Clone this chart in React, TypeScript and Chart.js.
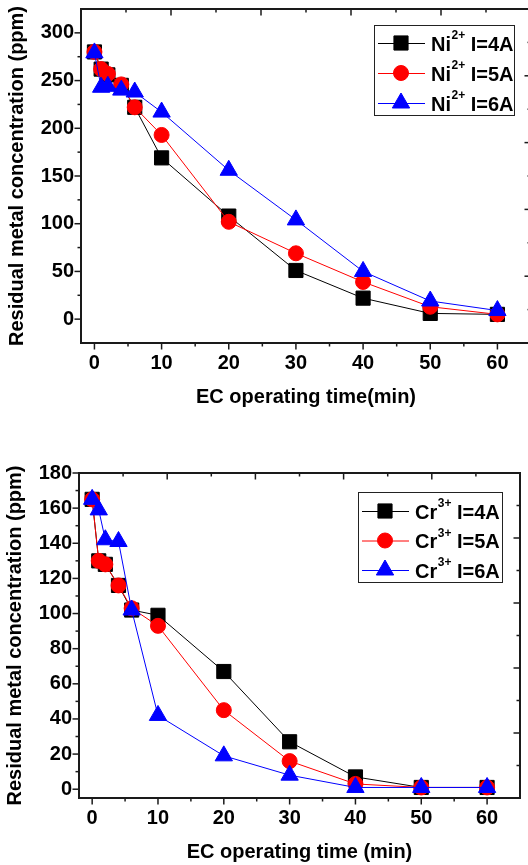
import React, { useEffect, useRef } from "react";
import { Chart, registerables } from "chart.js";

Chart.register(...registerables);

// ---------- data ----------
const niTime = [0, 1, 2, 4, 6, 10, 20, 30, 40, 50, 60];
const ni4A = [280, 262, 256, 245, 222, 169, 108, 51, 22, 6, 5];
const ni5A = [280, 262, 257, 246, 222, 193, 102, 69, 39, 13, 5];
const ni6A = [279, 243, 244, 240, 238, 217, 156, 104, 50, 19, 9];

const crTime = [0, 1, 2, 4, 6, 10, 20, 30, 40, 50, 60];
const cr4A = [165, 130, 128, 116, 102, 99, 67, 27, 7, 1, 1];
const cr5A = [165, 130, 128, 116, 103, 93, 45, 16, 3, 1, 1];
const cr6A = [165, 159, 142, 141, 102, 42, 19, 8, 1, 1, 1];

const xMajorTicks = [0, 10, 20, 30, 40, 50, 60];
const xMinorTicks = [5, 15, 25, 35, 45, 55];
const niYMajorTicks = [0, 50, 100, 150, 200, 250, 300];
const niYMinorTicks = [25, 75, 125, 175, 225, 275];
const crYMajorTicks = [0, 20, 40, 60, 80, 100, 120, 140, 160, 180];
const crYMinorTicks = [10, 30, 50, 70, 90, 110, 130, 150, 170];
const frameMajorTicks = [0, 2, 4, 6, 8, 10];
const frameMinorTicks = [1, 3, 5, 7, 9];

const currents = ["I=4A", "I=5A", "I=6A"];
const niIon = { base: "Ni", sup: "2+" };
const crIon = { base: "Cr", sup: "3+" };

const seriesColors = ["#000000", "#ff0000", "#0000ff"];
const seriesStyles = ["rect", "circle", "triangle"];
const seriesRadius = [10, 7.5, 10];

const FONT = "'Liberation Sans', Arial, Helvetica, sans-serif";

function drawMarker(ctx: CanvasRenderingContext2D, style: string, x: number, y: number, r: number, color: string) {
  ctx.save();
  ctx.fillStyle = color;
  ctx.strokeStyle = color;
  ctx.lineWidth = 1;
  ctx.beginPath();
  if (style === "rect") {
    const s = r * Math.SQRT1_2;
    ctx.rect(x - s, y - s, 2 * s, 2 * s);
  } else if (style === "circle") {
    ctx.arc(x, y, r, 0, Math.PI * 2);
  } else {
    let rad = 0;
    const t = (2 * Math.PI) / 3;
    ctx.moveTo(x + Math.sin(rad) * r, y - Math.cos(rad) * r);
    rad += t;
    ctx.lineTo(x + Math.sin(rad) * r, y - Math.cos(rad) * r);
    rad += t;
    ctx.lineTo(x + Math.sin(rad) * r, y - Math.cos(rad) * r);
    ctx.closePath();
  }
  ctx.fill();
  ctx.stroke();
  ctx.restore();
}

const framePlugin = {
  id: "frame",
  afterDraw(chart: any, _args: any, opts: any) {
    const { ctx, chartArea: a, scales } = chart;
    ctx.save();
    ctx.strokeStyle = "#1a1a1a";
    ctx.lineWidth = 1.5;
    const seg = (x1: number, y1: number, x2: number, y2: number) => {
      ctx.beginPath();
      ctx.moveTo(x1, y1);
      ctx.lineTo(x2, y2);
      ctx.stroke();
    };
    const MAJ = 6.5, MIN = 3.5;
    opts.xMajor.forEach((v: number) => { const p = scales.x.getPixelForValue(v); seg(p, a.bottom, p, a.bottom + MAJ); });
    opts.xMinor.forEach((v: number) => { const p = scales.x.getPixelForValue(v); seg(p, a.bottom, p, a.bottom + MIN); });
    opts.yMajor.forEach((v: number) => { const p = scales.y.getPixelForValue(v); seg(a.left - MAJ, p, a.left, p); });
    opts.yMinor.forEach((v: number) => { const p = scales.y.getPixelForValue(v); seg(a.left - MIN, p, a.left, p); });
    opts.fMajor.forEach((v: number) => {
      const px = scales.x2.getPixelForValue(v); seg(px, a.top, px, a.top + MAJ);
      const py = scales.y2.getPixelForValue(v); seg(a.right - MAJ, py, a.right, py);
    });
    opts.fMinor.forEach((v: number) => {
      const px = scales.x2.getPixelForValue(v); seg(px, a.top, px, a.top + MIN);
      const py = scales.y2.getPixelForValue(v); seg(a.right - MIN, py, a.right, py);
    });
    ctx.lineWidth = 2;
    seg(a.left, a.top - 1, a.left, a.bottom + 1);
    seg(a.left - 1, a.bottom, a.right + 1, a.bottom);
    seg(a.left - 1, a.top, a.right + 1, a.top);
    seg(a.right, a.top - 1, a.right, a.bottom + 1);
    ctx.restore();
  },
};

const legendPlugin = {
  id: "boxLegend",
  afterDraw(chart: any, _args: any, opts: any) {
    const { ctx, chartArea: a } = chart;
    const left = a.right - opts.rightOffset - opts.width;
    const top = a.top + opts.topOffset;
    ctx.save();
    ctx.fillStyle = "#ffffff";
    ctx.fillRect(left, top, opts.width, opts.height);
    ctx.strokeStyle = "#222";
    ctx.lineWidth = 1;
    ctx.strokeRect(left + 0.5, top + 0.5, opts.width, opts.height);
    opts.labels.forEach((lab: string, i: number) => {
      const y = top + opts.firstRow + i * opts.rowGap;
      ctx.strokeStyle = seriesColors[i];
      ctx.lineWidth = 1;
      ctx.beginPath();
      ctx.moveTo(left + 4, y + 0.5);
      ctx.lineTo(left + 51, y + 0.5);
      ctx.stroke();
      drawMarker(ctx, seriesStyles[i], left + 27, y, seriesRadius[i], seriesColors[i]);
      ctx.fillStyle = "#000";
      ctx.textBaseline = "alphabetic";
      ctx.textAlign = "left";
      let x = left + 57;
      ctx.font = `bold 20px ${FONT}`;
      ctx.fillText(opts.ion.base, x, y + 7.5);
      x += ctx.measureText(opts.ion.base).width + 0.5;
      ctx.font = `bold 12px ${FONT}`;
      ctx.fillText(opts.ion.sup, x, y - 4);
      x += ctx.measureText(opts.ion.sup).width;
      ctx.font = `bold 20px ${FONT}`;
      ctx.fillText(" " + lab, x, y + 7.5);
    });
    ctx.restore();
  },
};

function makeSeries(times: number[], vals: number[][]) {
  return vals.map((v, i) => ({
    label: currents[i],
    data: times.map((t, j) => ({ x: t, y: v[j] })),
    borderColor: seriesColors[i],
    backgroundColor: seriesColors[i],
    borderWidth: 1,
    pointStyle: seriesStyles[i],
    pointRadius: seriesRadius[i],
    pointBorderWidth: 1,
    pointBackgroundColor: seriesColors[i],
    pointBorderColor: seriesColors[i],
    order: 3 - i,
    tension: 0,
    clip: false,
  }));
}

function buildConfig(p: any) {
  const tickFont = { family: FONT, size: 20, weight: "bold" as const };
  const titleFont = { family: FONT, size: 20, weight: "bold" as const };
  return {
    type: "line" as const,
    data: { datasets: makeSeries(p.times, p.vals) },
    plugins: [framePlugin, legendPlugin],
    options: {
      responsive: false,
      animation: false,
      events: [],
      layout: { autoPadding: false, padding: { left: 0, right: p.padRight, top: p.padTop, bottom: 0 } },
      plugins: {
        legend: { display: false },
        tooltip: { enabled: false },
        frame: { xMajor: xMajorTicks, xMinor: xMinorTicks, yMajor: p.yMajor, yMinor: p.yMinor, fMajor: frameMajorTicks, fMinor: frameMinorTicks },
        boxLegend: p.legend,
      },
      scales: {
        x: {
          type: "linear",
          position: "bottom",
          min: -2,
          max: 65,
          grid: { display: false, drawTicks: false },
          border: { display: false },
          afterBuildTicks: (s: any) => { s.ticks = xMajorTicks.map((v) => ({ value: v })); },
          afterFit: (s: any) => { s.height = p.xHeight; s.paddingLeft = 0; s.paddingRight = 0; },
          ticks: { color: "#000", font: tickFont, padding: p.xTickPad, maxRotation: 0, autoSkip: false },
          title: { display: true, text: p.xTitle, color: "#000", font: titleFont, padding: { top: 0, bottom: p.xTitlePad } },
        },
        y: {
          type: "linear",
          position: "left",
          min: p.yMin,
          max: p.yMax,
          grid: { display: false, drawTicks: false },
          border: { display: false },
          afterBuildTicks: (s: any) => { s.ticks = p.yMajor.map((v: number) => ({ value: v })); },
          afterFit: (s: any) => { s.width = p.yWidth; s.paddingTop = 0; s.paddingBottom = 0; },
          ticks: { color: "#000", font: tickFont, padding: 7, autoSkip: false },
          title: { display: true, text: "Residual metal concentration (ppm)", color: "#000", font: titleFont, padding: { top: p.yTitlePad, bottom: 0 } },
        },
        x2: { type: "linear", position: "top", display: false, min: 0, max: 10 },
        y2: { type: "linear", position: "right", display: false, min: 0, max: 10 },
      },
    },
  };
}

const topParams = {
  times: niTime,
  vals: [ni4A, ni5A, ni6A],
  yMin: -25,
  yMax: 325,
  yMajor: niYMajorTicks,
  yMinor: niYMinorTicks,
  padRight: 3,
  padTop: 9,
  xHeight: 87,
  yWidth: 81,
  xTickPad: 8,
  xTitlePad: 21,
  yTitlePad: 5,
  xTitle: "EC operating time(min)",
  legend: { ion: niIon, labels: currents, rightOffset: 17, topOffset: 16, width: 140, height: 90, firstRow: 18, rowGap: 30 },
};

const bottomParams = {
  times: crTime,
  vals: [cr4A, cr5A, cr6A],
  yMin: -5,
  yMax: 180,
  yMajor: crYMajorTicks,
  yMinor: crYMinorTicks,
  padRight: 8,
  padTop: 43,
  xHeight: 67,
  yWidth: 79,
  xTickPad: 8,
  xTitlePad: 1,
  yTitlePad: 3.5,
  xTitle: "EC operating time (min)",
  legend: { ion: crIon, labels: currents, rightOffset: 18, topOffset: 19, width: 144, height: 90, firstRow: 19, rowGap: 29.5 },
};

function ChartCanvas({ params, width, height, top }: any) {
  const ref = useRef<HTMLCanvasElement | null>(null);
  useEffect(() => {
    if (!ref.current) return;
    const chart = new Chart(ref.current, buildConfig(params) as any);
    return () => chart.destroy();
  }, []);
  return (
    <canvas
      ref={ref}
      width={width}
      height={height}
      style={{ position: "absolute", left: 0, top, width, height, display: "block" }}
    />
  );
}

export default function App() {
  return (
    <div style={{ position: "absolute", left: 0, top: 0, width: 528, height: 865, overflow: "hidden", background: "#fff" }}>
      <ChartCanvas params={topParams} width={534} height={430} top={0} />
      <ChartCanvas params={bottomParams} width={528} height={435} top={430} />
    </div>
  );
}
